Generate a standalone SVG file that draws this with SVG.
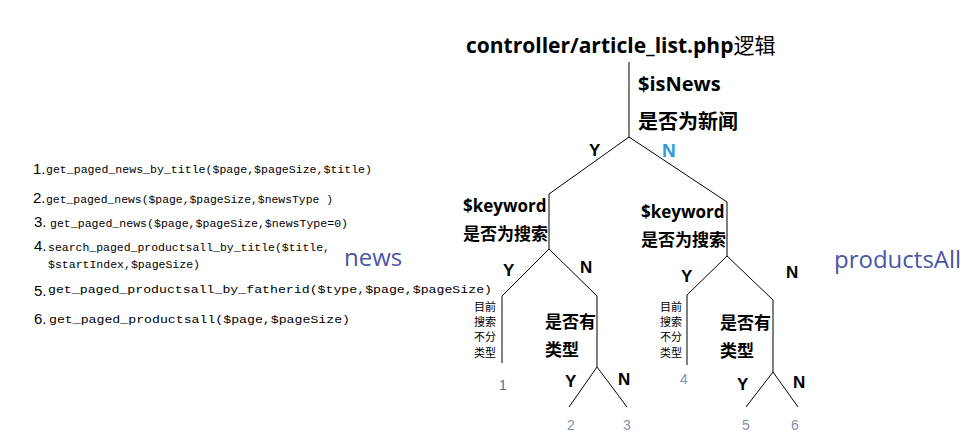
<svg xmlns="http://www.w3.org/2000/svg" width="980" height="440" viewBox="0 0 980 440">
<style>
.b{font-family:"Open Sans","Noto Sans CJK SC",sans-serif;font-weight:bold;fill:#000}
.cn{font-family:"Noto Sans CJK SC",sans-serif;fill:#000}
.m{font-family:"Liberation Mono","DejaVu Sans Mono",monospace;fill:#000;font-size:11.5px}
.n{font-family:"Liberation Sans",sans-serif;fill:#000;font-size:15px}
.yn{font-family:"Liberation Sans",sans-serif;font-weight:bold;font-size:17px;fill:#000}
.num{font-family:"Liberation Sans",sans-serif;font-size:14px;fill:#7f8fae}
.big{font-family:"Open Sans",sans-serif;font-size:24px;fill:#4a56a6}
.l{stroke:#000;stroke-width:1;fill:none}
</style>
<rect width="980" height="440" fill="#fff"/>
<g id="connectors">
<path class="l" d="M629 62V137L549 194V249"/>
<path class="l" d="M629 137L727 202V256"/>
<path class="l" d="M549 249L502 296V363"/>
<path class="l" d="M549 249L597 296V367"/>
<path class="l" d="M569 407L597 367L627 407"/>
<path class="l" d="M727 256L687 295V365"/>
<path class="l" d="M727 256L773 300V372"/>
<path class="l" d="M746 407L773 372L798 407"/>
</g>
<g id="title"><text class="b" x="466" y="53" font-size="21">controller/article_list.php<tspan font-weight="normal" font-family="Noto Sans CJK SC,sans-serif">逻辑</tspan></text></g>
<g id="isNews">
<text class="b" x="638" y="91" font-size="20">$isNews</text>
<text class="b" x="638" y="129" font-size="20" font-family="Noto Sans CJK SC,sans-serif">是否为新闻</text>
<text class="yn" x="589" y="156" font-size="19">Y</text>
<text x="662" y="157" font-family="Liberation Sans,sans-serif" font-weight="bold" font-size="19" fill="#2a9fd6">N</text>
</g>
<g id="kw-left">
<text class="b" x="463" y="212" font-size="17">$keyword</text>
<text class="b" x="463" y="240" font-size="17" font-family="Noto Sans CJK SC,sans-serif">是否为搜索</text>
<text class="yn" x="503" y="276">Y</text>
<text class="yn" x="580" y="273">N</text>
</g>
<g id="kw-right">
<text class="b" x="641" y="218" font-size="17">$keyword</text>
<text class="b" x="641" y="246" font-size="17" font-family="Noto Sans CJK SC,sans-serif">是否为搜索</text>
<text class="yn" x="681" y="282">Y</text>
<text class="yn" x="786" y="278">N</text>
</g>
<g id="nosearch-left" font-size="11">
<text class="cn" x="474" y="311">目前</text>
<text class="cn" x="474" y="326">搜索</text>
<text class="cn" x="474" y="341">不分</text>
<text class="cn" x="474" y="357">类型</text>
</g>
<g id="nosearch-right" font-size="11">
<text class="cn" x="660" y="311">目前</text>
<text class="cn" x="660" y="326">搜索</text>
<text class="cn" x="660" y="341">不分</text>
<text class="cn" x="660" y="357">类型</text>
</g>
<g id="type-left">
<text class="b" x="545" y="328" font-size="17" font-family="Noto Sans CJK SC,sans-serif">是否有</text>
<text class="b" x="545" y="356" font-size="17" font-family="Noto Sans CJK SC,sans-serif">类型</text>
<text class="yn" x="565" y="387">Y</text>
<text class="yn" x="618" y="385">N</text>
</g>
<g id="type-right">
<text class="b" x="720" y="329" font-size="17" font-family="Noto Sans CJK SC,sans-serif">是否有</text>
<text class="b" x="720" y="357" font-size="17" font-family="Noto Sans CJK SC,sans-serif">类型</text>
<text class="yn" x="737" y="390">Y</text>
<text class="yn" x="793" y="388">N</text>
</g>
<g id="leaves">
<text x="499" y="390" font-family="Liberation Sans,sans-serif" font-size="14" fill="#5a68a0">1</text>
<text class="num" x="680" y="384">4</text>
<text class="num" x="567" y="430">2</text>
<text class="num" x="623" y="430">3</text>
<text class="num" x="742" y="430">5</text>
<text class="num" x="791" y="430">6</text>
</g>
<g id="groups">
<text class="big" x="344" y="266">news</text>
<text class="big" x="834" y="268">productsAll</text>
</g>
<g id="list">
<text class="n" x="33" y="174">1.</text><text class="m" x="46" y="173" textLength="326" lengthAdjust="spacingAndGlyphs">get_paged_news_by_title($page,$pageSize,$title)</text>
<text class="n" x="33" y="203">2.</text><text class="m" x="46" y="203" textLength="287" lengthAdjust="spacingAndGlyphs">get_paged_news($page,$pageSize,$newsType )</text>
<text class="n" x="34" y="227">3.</text><text class="m" x="50" y="227" textLength="298" lengthAdjust="spacingAndGlyphs">get_paged_news($page,$pageSize,$newsType=0)</text>
<text class="n" x="34" y="251">4.</text><text class="m" x="48" y="251" textLength="282" lengthAdjust="spacingAndGlyphs">search_paged_productsall_by_title($title,</text>
<text class="m" x="48" y="268" textLength="152" lengthAdjust="spacingAndGlyphs">$startIndex,$pageSize)</text>
<text class="n" x="34" y="296">5.</text><text class="m" x="48" y="293" font-size="13" textLength="444" lengthAdjust="spacingAndGlyphs">get_paged_productsall_by_fatherid($type,$page,$pageSize)</text>
<text class="n" x="34" y="324">6.</text><text class="m" x="49" y="323" font-size="13" textLength="301" lengthAdjust="spacingAndGlyphs">get_paged_productsall($page,$pageSize)</text>
</g>
</svg>
